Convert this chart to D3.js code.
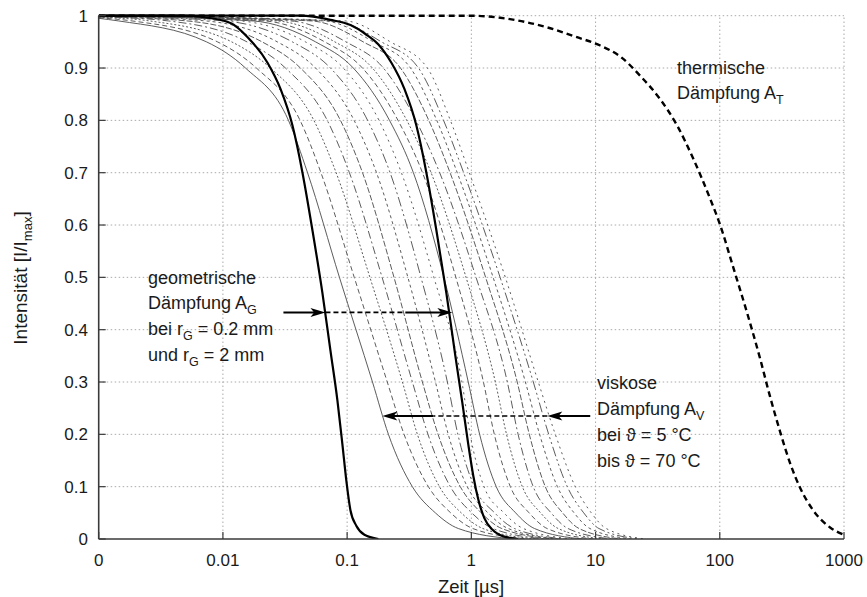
<!DOCTYPE html>
<html><head><meta charset="utf-8">
<script src="https://cdn.jsdelivr.net/npm/d3@7/dist/d3.min.js"></script>
<style>
body{margin:0;background:#fff;}
text{font-family:"Liberation Sans","Helvetica",Arial,sans-serif;fill:#1a1a1a;}
</style></head>
<body>
<svg id="chart" width="867" height="597"></svg>
<script>
// ---- tick values / labels ----
const xTickValues = [0.001, 0.01, 0.1, 1, 10, 100, 1000];
const xTickLabels = ["0", "0.01", "0.1", "1", "10", "100", "1000"];
const yTickValues = [0, 0.1, 0.2, 0.3, 0.4, 0.5, 0.6, 0.7, 0.8, 0.9, 1];
const yTickLabels = ["0", "0.1", "0.2", "0.3", "0.4", "0.5", "0.6", "0.7", "0.8", "0.9", "1"];

// ---- geometric damping (thick) : [time µs, intensity] ----
const geoR02 = [[0.001,1],[0.00456,1],[0.00661,0.998],[0.0115,0.986],[0.0158,0.959],[0.02286,0.91],[0.02907,0.86],[0.03631,0.79],[0.0437,0.70],[0.05256,0.59],[0.06327,0.47],[0.0734,0.36],[0.0835,0.265],[0.0917,0.18],[0.0987,0.11],[0.1063,0.055],[0.1188,0.025],[0.1378,0.008],[0.1786,0]];
const geoR2 = [[0.001,1],[0.0421,1],[0.0734,0.992],[0.1064,0.982],[0.1404,0.965],[0.1786,0.945],[0.2272,0.91],[0.2891,0.86],[0.3609,0.79],[0.4345,0.70],[0.5229,0.59],[0.6292,0.47],[0.7434,0.35],[0.8464,0.26],[0.946,0.18],[1.038,0.12],[1.139,0.075],[1.272,0.04],[1.475,0.018],[1.809,0.005],[2.388,0]];

// ---- thermal damping (thick dashed) ----
const thermal = [[0.001,1],[1,1],[1.71,0.996],[2.72,0.988],[4.32,0.976],[6.87,0.96],[10.9,0.943],[15.8,0.922],[22.9,0.885],[33.2,0.84],[45.4,0.79],[61.1,0.727],[83.7,0.65],[100.7,0.6],[128,0.52],[166,0.432],[211,0.345],[254,0.272],[306,0.205],[368,0.145],[443,0.098],[564,0.055],[773,0.022],[1000,0.008]];

// ---- viscous damping curves (thin): time [µs] at each intensity level ----
const viscLevels = [0.99, 0.95, 0.9, 0.8, 0.7, 0.5, 0.3, 0.2, 0.1, 0.05, 0.02, 0];
const viscStart = [0.995, 0.996, 0.997, 0.998, 0.998, 0.999, 0.999, 1, 1, 1, 1, 1, 1, 1, 1, 1];
const visc01 = [0.001445, 0.00738, 0.0152, 0.0337, 0.048, 0.0867, 0.16, 0.215, 0.335, 0.513, 0.786, 2.26];
const visc02 = [0.00186, 0.009047, 0.0186, 0.0418, 0.06155, 0.1141, 0.2105, 0.2874, 0.4509, 0.6816, 1.028, 2.859];
const visc03 = [0.002572, 0.01177, 0.02411, 0.05397, 0.08156, 0.1525, 0.2786, 0.3678, 0.5538, 0.8292, 1.24, 3.372];
const visc04 = [0.003644, 0.01563, 0.03189, 0.06917, 0.1043, 0.1912, 0.3353, 0.4475, 0.6777, 1.006, 1.489, 3.96];
const visc05 = [0.005152, 0.02067, 0.0421, 0.08834, 0.133, 0.2384, 0.4035, 0.5396, 0.8142, 1.201, 1.759, 4.585];
const visc06 = [0.007297, 0.0274, 0.0557, 0.1138, 0.1724, 0.3084, 0.5142, 0.6519, 0.9269, 1.36, 1.981, 5.086];
const visc07 = [0.0103, 0.03623, 0.0734, 0.1462, 0.2218, 0.3931, 0.6411, 0.7788, 1.055, 1.54, 2.226, 5.641];
const visc08 = [0.01388, 0.04618, 0.0932, 0.1805, 0.2734, 0.4992, 0.8402, 0.9779, 1.265, 1.829, 2.625, 6.521];
const visc09 = [0.0175, 0.0557, 0.1122, 0.2194, 0.3415, 0.6019, 0.9443, 1.166, 1.586, 2.272, 3.225, 7.816];
const visc10 = [0.02161, 0.06604, 0.1328, 0.2567, 0.4043, 0.7503, 1.251, 1.531, 2.06, 2.917, 4.078, 9.601];
const visc11 = [0.02719, 0.07962, 0.1597, 0.3021, 0.474, 0.9066, 1.56, 1.92, 2.572, 3.61, 5.002, 11.49];
const visc12 = [0.03505, 0.09779, 0.1959, 0.3577, 0.5559, 1.091, 1.948, 2.379, 3.148, 4.385, 6.008, 13.5];
const visc13 = [0.052, 0.1347, 0.2689, 0.4543, 0.674, 1.303, 2.34, 2.928, 3.938, 5.427, 7.368, 16.13];
const visc14 = [0.06555, 0.1625, 0.3236, 0.5267, 0.7701, 1.497, 2.724, 3.543, 4.929, 6.714, 9.016, 19.27];
const visc15 = [0.07889, 0.1887, 0.3754, 0.5974, 0.8671, 1.704, 3.154, 4.195, 5.921, 8.024, 10.65, 22.31];
const visc16 = [0.0969, 0.223, 0.4426, 0.6777, 0.9636, 1.877, 3.459, 4.741, 6.866, 9.235, 12.19, 25.1];
const viscCurves = [visc01, visc02, visc03, visc04, visc05, visc06, visc07, visc08,
                    visc09, visc10, visc11, visc12, visc13, visc14, visc15, visc16];
const dashCycle = ["", "5,3", "2,2", "8,3,2,3", "6,2", "3,3", "10,3,2,3,2,3", "2,4"];

// ---- annotation arrows (intensity level) ----
const geoArrowLevel = 0.433;
const viscArrowLevel = 0.235;

// ---- drawing ----
const svg = d3.select("#chart");
const L = 98.7, R = 844, T = 15.7, B = 539;
const x = d3.scaleLog().domain([0.001, 1000]).range([L, R]);
const y = d3.scaleLinear().domain([0, 1]).range([B, T]);
const tickFont = 17, noteFont = 18, titleFont = 18.5, subFont = 12.5;

// grid
const grid = svg.append("g");
grid.selectAll("line.gx").data(xTickValues.slice(1)).join("line")
  .attr("x1", d => x(d)).attr("x2", d => x(d)).attr("y1", B).attr("y2", T)
  .attr("stroke", "#aaa").attr("stroke-width", 1).attr("stroke-dasharray", "1.5,2.5");
grid.selectAll("line.gy").data(yTickValues.slice(1)).join("line")
  .attr("x1", L).attr("x2", R).attr("y1", d => y(d)).attr("y2", d => y(d))
  .attr("stroke", "#aaa").attr("stroke-width", 1).attr("stroke-dasharray", "1.5,2.5");

svg.append("clipPath").attr("id", "clip").append("rect")
  .attr("x", L).attr("y", T - 3).attr("width", R - L + 1).attr("height", B - T + 3);
const plot = svg.append("g").attr("clip-path", "url(#clip)");

const line = d3.line().x(d => x(d[0])).y(d => y(d[1])).curve(d3.curveMonotoneX);

viscCurves.forEach((times, i) => {
  const pts = [[0.001, viscStart[i]]].concat(times.map((t, j) => [t, viscLevels[j]]));
  plot.append("path").attr("d", line(pts)).attr("fill", "none")
    .attr("stroke", "#4a4a4a").attr("stroke-width", 0.9)
    .attr("stroke-dasharray", dashCycle[i % 8]);
});

[geoR02, geoR2].forEach(data => {
  plot.append("path").attr("d", line(data)).attr("fill", "none")
    .attr("stroke", "#000").attr("stroke-width", 2.2);
});
plot.append("path").attr("d", line(thermal)).attr("fill", "none")
  .attr("stroke", "#000").attr("stroke-width", 2.4).attr("stroke-dasharray", "6,4");

// axes
const axisCol = "#3a3a3a";
svg.append("line").attr("x1", L).attr("x2", L).attr("y1", T).attr("y2", B)
  .attr("stroke", axisCol).attr("stroke-width", 1.6);
svg.append("line").attr("x1", L).attr("x2", R).attr("y1", B).attr("y2", B)
  .attr("stroke", axisCol).attr("stroke-width", 1.6);
svg.selectAll("line.xt").data(xTickValues).join("line")
  .attr("x1", d => x(d)).attr("x2", d => x(d)).attr("y1", B).attr("y2", B - 7)
  .attr("stroke", axisCol).attr("stroke-width", 1.2);
svg.selectAll("line.yt").data(yTickValues).join("line")
  .attr("x1", L).attr("x2", L + 7).attr("y1", d => y(d)).attr("y2", d => y(d))
  .attr("stroke", axisCol).attr("stroke-width", 1.2);

svg.selectAll("text.xl").data(xTickValues).join("text")
  .attr("x", d => x(d)).attr("y", 566).attr("text-anchor", "middle")
  .attr("font-size", tickFont).text((d, i) => xTickLabels[i]);
svg.selectAll("text.yl").data(yTickValues).join("text")
  .attr("x", 88).attr("y", d => y(d) + 6).attr("text-anchor", "end")
  .attr("font-size", tickFont).text((d, i) => yTickLabels[i]);

// axis titles
svg.append("text").attr("x", 471).attr("y", 593).attr("text-anchor", "middle")
  .attr("font-size", titleFont).text("Zeit [µs]");
const yt = svg.append("text").attr("transform", "translate(27,278) rotate(-90)")
  .attr("text-anchor", "middle").attr("font-size", 19);
yt.append("tspan").text("Intensität [I/I");
yt.append("tspan").attr("font-size", 13).attr("dy", 5).text("max");
yt.append("tspan").attr("dy", -5).text("]");

// arrows
function arrowHead(xTip, yTip, dir) {
  const len = 15, hw = 4.5;
  svg.append("path")
    .attr("d", `M${xTip},${yTip} L${xTip - dir * len},${yTip - hw} L${xTip - dir * len * 0.75},${yTip} L${xTip - dir * len},${yTip + hw} Z`)
    .attr("fill", "#000");
}
function seg(x1, x2, yy, dashed) {
  svg.append("line").attr("x1", x1).attr("x2", x2).attr("y1", yy).attr("y2", yy)
    .attr("stroke", "#000").attr("stroke-width", dashed ? 1.6 : 2)
    .attr("stroke-dasharray", dashed ? "5,3" : null);
}
const gy = y(geoArrowLevel);
seg(x(0.0307), x(0.0669) - 10, gy, false); arrowHead(x(0.0669), gy, 1);
seg(x(0.0669), x(0.294), gy, true);
seg(x(0.294), x(0.703) - 10, gy, false); arrowHead(x(0.703), gy, 1);
const vy = y(viscArrowLevel);
seg(x(9.06), x(4.09) + 10, vy, false); arrowHead(x(4.09), vy, -1);
seg(x(4.09), x(0.495), vy, true);
seg(x(0.495), x(0.192) + 10, vy, false); arrowHead(x(0.192), vy, -1);

// annotation texts
function label(xp, yp, parts) {
  const t = svg.append("text").attr("x", xp).attr("y", yp).attr("font-size", noteFont);
  let shifted = false;
  parts.forEach(p => {
    if (typeof p === "string") {
      t.append("tspan").attr("dy", shifted ? -5 : 0).text(p); shifted = false;
    } else {
      t.append("tspan").attr("font-size", subFont).attr("dy", 5).text(p.sub); shifted = true;
    }
  });
}
label(148, 284, ["geometrische"]);
label(148, 309, ["Dämpfung A", {sub: "G"}]);
label(148, 335, ["bei r", {sub: "G"}, " = 0.2 mm"]);
label(148, 361, ["und r", {sub: "G"}, " = 2 mm"]);
label(677, 74, ["thermische"]);
label(677, 99, ["Dämpfung A", {sub: "T"}]);
label(597, 389, ["viskose"]);
label(597, 415, ["Dämpfung A", {sub: "V"}]);
label(597, 441, ["bei ϑ = 5 °C"]);
label(597, 467, ["bis ϑ = 70 °C"]);
</script>
</body></html>
